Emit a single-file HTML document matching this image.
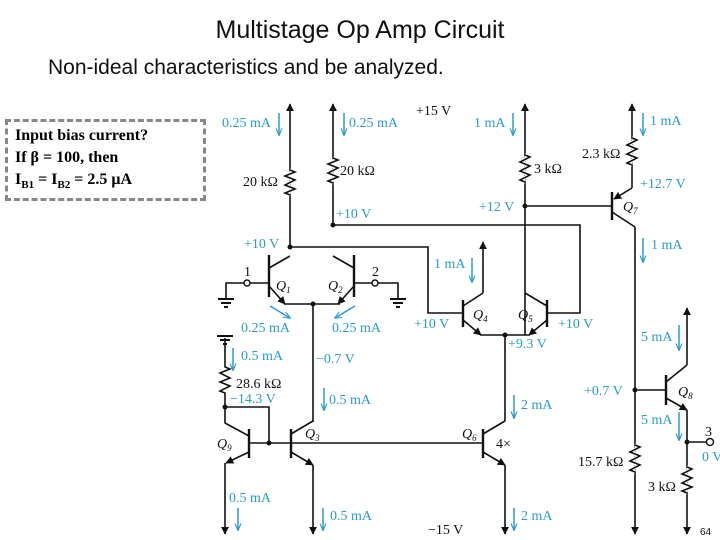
<!DOCTYPE html>
<html><head><meta charset="utf-8"><style>
body{margin:0;width:720px;height:540px;background:#fff;overflow:hidden;position:relative;font-family:"Liberation Sans",sans-serif}
.t{position:absolute;white-space:nowrap}
</style></head><body>
<div class="t" style="left:0;width:720px;text-align:center;top:16px;font-size:25px;color:#111">Multistage Op Amp Circuit</div>
<div class="t" style="left:48px;top:56px;font-size:21px;color:#111">Non-ideal characteristics and be analyzed.</div>
<div style="position:absolute;left:5px;top:119px;width:188px;height:73px;border:3px dashed #888;font-family:'Liberation Serif',serif;font-weight:bold;font-size:16px;line-height:22px;padding:3px 0 0 7px;box-sizing:content-box">Input bias current?<br>If β = 100, then<br>I<sub style="font-size:11px">B1</sub> = I<sub style="font-size:11px">B2</sub> = 2.5 μA</div>
<svg width="720" height="540" style="position:absolute;left:0;top:0" font-family="Liberation Serif,serif" font-size="14">
<defs>
<marker id="ah" viewBox="0 0 10 10" refX="9" refY="5" markerWidth="5" markerHeight="5" orient="auto"><path d="M0,0L10,5L0,10z" fill="#111"/></marker>
<marker id="bh" viewBox="0 0 10 10" refX="9" refY="5" markerWidth="5" markerHeight="6" orient="auto"><path d="M0,1L10,5L0,9" fill="none" stroke="#2a9bd0" stroke-width="1.5"/></marker>
</defs>
<g stroke="#111" stroke-width="1.6" fill="none">
<line x1="290" y1="247" x2="290" y2="104" marker-end="url(#ah)"/>
<line x1="333" y1="225" x2="333" y2="104" marker-end="url(#ah)"/>
<line x1="525" y1="335" x2="525" y2="104" marker-end="url(#ah)"/>
<line x1="632" y1="188" x2="632" y2="104" marker-end="url(#ah)"/>
<line x1="483" y1="293" x2="483" y2="242" marker-end="url(#ah)"/>
<line x1="687" y1="365" x2="687" y2="308" marker-end="url(#ah)"/>
<line x1="225" y1="463" x2="225" y2="534" marker-end="url(#ah)"/>
<line x1="313" y1="465" x2="313" y2="534" marker-end="url(#ah)"/>
<line x1="505" y1="465" x2="505" y2="534" marker-end="url(#ah)"/>
<line x1="635" y1="227" x2="635" y2="534" marker-end="url(#ah)"/>
<line x1="687" y1="410" x2="687" y2="534" marker-end="url(#ah)"/>
</g>
<g stroke="#111" stroke-width="1.6" fill="none">
<polyline points="290,170 295,172 285,176 295,180 285,185 295,189 285,193 290,195" stroke="#fff" stroke-width="4"/>
<polyline points="290,170 295,172 285,176 295,180 285,185 295,189 285,193 290,195"/>
<polyline points="333,158 338,160 328,164 338,168 328,173 338,177 328,181 333,183" stroke="#fff" stroke-width="4"/>
<polyline points="333,158 338,160 328,164 338,168 328,173 338,177 328,181 333,183"/>
<polyline points="525,155 530,157 520,162 530,166 520,171 530,175 520,180 525,182" stroke="#fff" stroke-width="4"/>
<polyline points="525,155 530,157 520,162 530,166 520,171 530,175 520,180 525,182"/>
<polyline points="632,138 637,140 627,145 637,149 627,154 637,158 627,163 632,165" stroke="#fff" stroke-width="4"/>
<polyline points="632,138 637,140 627,145 637,149 627,154 637,158 627,163 632,165"/>
<polyline points="635,445 640,447 630,452 640,456 630,461 640,465 630,470 635,472" stroke="#fff" stroke-width="4"/>
<polyline points="635,445 640,447 630,452 640,456 630,461 640,465 630,470 635,472"/>
<polyline points="687,467 692,469 682,474 692,478 682,483 692,487 682,491 687,493" stroke="#fff" stroke-width="4"/>
<polyline points="687,467 692,469 682,474 692,478 682,483 692,487 682,491 687,493"/>
<polyline points="225,338 225,367 230,369 220,373 230,378 220,382 230,386 220,391 225,393 225,407 269,407 269,443"/>
<polyline points="290,247 428,247 428,313 463,313"/>
<polyline points="333,225 580,225 580,313 547,313"/>
<line x1="525" y1="206" x2="612" y2="206"/>
<polyline points="505,335 505,421"/>
<polyline points="313,304 313,422"/>
<line x1="249" y1="443" x2="483" y2="443"/>
<line x1="635" y1="390" x2="666" y2="390"/>
<polyline points="687,442 706,442"/>
<line x1="269" y1="255" x2="269" y2="297" stroke-width="2.4"/>
<polyline points="269,268 290,256"/>
<line x1="269" y1="286" x2="285" y2="304" marker-end="url(#ah)"/>
<line x1="284" y1="304" x2="340" y2="304"/>
<line x1="354" y1="255" x2="354" y2="297" stroke-width="2.4"/>
<polyline points="354,268 333,256"/>
<line x1="354" y1="286" x2="338" y2="304" marker-end="url(#ah)"/>
<line x1="250" y1="283" x2="269" y2="283"/><polyline points="244,283 226,283 226,298"/>
<line x1="354" y1="283" x2="372" y2="283"/><polyline points="378,283 398,283 398,298"/>
<line x1="463" y1="300" x2="463" y2="327" stroke-width="2.4"/>
<polyline points="463,306 483,293"/>
<line x1="463" y1="320" x2="481" y2="335" marker-end="url(#ah)"/>
<line x1="480" y1="335" x2="530" y2="335"/>
<line x1="547" y1="300" x2="547" y2="327" stroke-width="2.4"/>
<polyline points="547,306 525,293"/>
<line x1="547" y1="320" x2="529" y2="335" marker-end="url(#ah)"/>
<line x1="612" y1="192" x2="612" y2="220" stroke-width="2.4"/>
<line x1="632" y1="188" x2="614" y2="199" marker-end="url(#ah)"/>
<polyline points="612,212 635,227"/>
<line x1="666" y1="375" x2="666" y2="405" stroke-width="2.4"/>
<polyline points="666,382 687,365"/>
<line x1="666" y1="398" x2="687" y2="410" marker-end="url(#ah)"/>
<line x1="249" y1="429" x2="249" y2="458" stroke-width="2.4"/>
<polyline points="249,436 225,423 225,407"/>
<line x1="249" y1="452" x2="226" y2="463" marker-end="url(#ah)"/>
<line x1="291" y1="429" x2="291" y2="458" stroke-width="2.4"/>
<polyline points="291,434 313,421"/>
<line x1="291" y1="452" x2="313" y2="465" marker-end="url(#ah)"/>
<line x1="483" y1="429" x2="483" y2="458" stroke-width="2.4"/>
<polyline points="483,434 505,421"/>
<line x1="483" y1="452" x2="505" y2="465" marker-end="url(#ah)"/>
<path d="M218,299h16M221,303h10M224,307h4M390,299h16M393,303h10M396,307h4M217,336h16M220,340h10M223,344h4" stroke-width="2"/>
</g>
<g fill="#fff" stroke="#111" stroke-width="1.4"><circle cx="247" cy="283" r="3"/><circle cx="375" cy="283" r="3"/><circle cx="710" cy="442" r="3.5"/></g>
<g fill="#111"><circle cx="290" cy="247" r="2.5"/><circle cx="333" cy="225" r="2.5"/><circle cx="313" cy="304" r="2.5"/><circle cx="525" cy="206" r="2.5"/><circle cx="505" cy="335" r="2.5"/><circle cx="225" cy="407" r="2.5"/><circle cx="269" cy="443" r="2.5"/><circle cx="635" cy="390" r="2.5"/><circle cx="687" cy="442" r="2.5"/></g>
<g stroke="#2a9bd0" stroke-width="1.5" marker-end="url(#bh)">
<line x1="279" y1="113" x2="279" y2="135"/><line x1="344" y1="113" x2="344" y2="135"/>
<line x1="513" y1="113" x2="513" y2="135"/><line x1="643" y1="113" x2="643" y2="135"/>
<line x1="643" y1="238" x2="643" y2="262"/><line x1="472" y1="258" x2="472" y2="282"/>
<line x1="270" y1="306" x2="290" y2="318"/><line x1="355" y1="306" x2="335" y2="318"/>
<line x1="233" y1="348" x2="233" y2="370"/><line x1="324" y1="388" x2="324" y2="410"/>
<line x1="238" y1="508" x2="238" y2="530"/><line x1="323" y1="508" x2="323" y2="530"/>
<line x1="514" y1="395" x2="514" y2="418"/><line x1="514" y1="508" x2="514" y2="530"/>
<line x1="679" y1="325" x2="679" y2="350"/><line x1="679" y1="412" x2="679" y2="440"/>
</g>
<g fill="#2a9bd0">
<text x="222" y="127">0.25 mA</text><text x="349" y="127">0.25 mA</text>
<text x="336" y="218">+10 V</text><text x="244" y="248">+10 V</text>
<text x="241" y="332">0.25 mA</text><text x="332" y="332">0.25 mA</text>
<text x="474" y="127">1 mA</text><text x="479" y="211">+12 V</text>
<text x="650" y="125">1 mA</text><text x="640" y="188">+12.7 V</text><text x="651" y="249">1 mA</text>
<text x="434" y="268">1 mA</text><text x="414" y="328">+10 V</text><text x="558" y="328">+10 V</text><text x="508" y="348">+9.3 V</text>
<text x="241" y="360">0.5 mA</text><text x="316" y="363">−0.7 V</text><text x="230" y="403">−14.3 V</text>
<text x="329" y="404">0.5 mA</text><text x="229" y="502">0.5 mA</text><text x="330" y="520">0.5 mA</text>
<text x="521" y="409">2 mA</text><text x="521" y="520">2 mA</text>
<text x="641" y="341">5 mA</text><text x="584" y="395">+0.7 V</text><text x="641" y="424">5 mA</text><text x="702" y="461">0 V</text>
</g>
<g fill="#111">
<text x="416" y="115">+15 V</text><text x="243" y="186">20 kΩ</text><text x="340" y="175">20 kΩ</text>
<text x="244" y="276">1</text><text x="372" y="276">2</text>
<text x="534" y="173">3 kΩ</text><text x="582" y="158">2.3 kΩ</text>
<text x="236" y="388">28.6 kΩ</text><text x="428" y="534">−15 V</text><text x="496" y="448">4×</text>
<text x="705" y="436">3</text><text x="578" y="466">15.7 kΩ</text><text x="648" y="491">3 kΩ</text>
<g font-style="italic"><text x="276" y="290">Q<tspan font-size="9" dy="3">1</tspan></text><text x="328" y="290">Q<tspan font-size="9" dy="3">2</tspan></text>
<text x="473" y="319">Q<tspan font-size="9" dy="3">4</tspan></text><text x="518" y="319">Q<tspan font-size="9" dy="3">5</tspan></text>
<text x="623" y="211">Q<tspan font-size="9" dy="3">7</tspan></text><text x="678" y="396">Q<tspan font-size="9" dy="3">8</tspan></text>
<text x="217" y="448">Q<tspan font-size="9" dy="3">9</tspan></text><text x="305" y="438">Q<tspan font-size="9" dy="3">3</tspan></text>
<text x="462" y="438">Q<tspan font-size="9" dy="3">6</tspan></text></g>
<text x="700" y="535" font-family="Liberation Sans,sans-serif" font-size="10">64</text>
</g>
</svg>
</body></html>
